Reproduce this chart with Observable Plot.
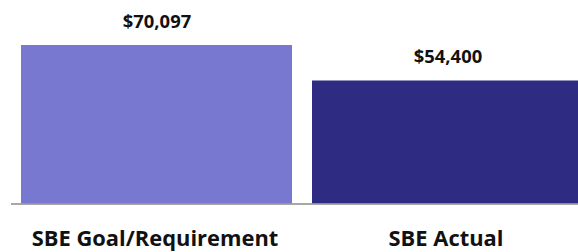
<!DOCTYPE html>
<html>
<head>
<meta charset="utf-8">
<script src="https://cdn.jsdelivr.net/npm/d3@7"></script>
<script src="https://cdn.jsdelivr.net/npm/@observablehq/plot@0.6"></script>
<style>
html, body { margin: 0; padding: 0; background: #fff; overflow: hidden; }
svg { overflow: hidden; }
</style>
</head>
<body>
<div id="chart"></div>
<script>
const categories = ["SBE Goal/Requirement", "SBE Actual"];
const values = [70097, 54400];
const valueLabels = ["$70,097", "$54,400"];
const colors = ["#7978D0", "#2E2B82"];

const data = categories.map((c, i) => ({category: c, value: values[i], label: valueLabels[i], color: colors[i]}));

const chart = Plot.plot({
  width: 578,
  height: 252,
  marginLeft: 11,
  marginRight: 0,
  marginTop: 0,
  marginBottom: 48.5,
  style: {fontFamily: "'Open Sans', 'Noto Sans', sans-serif", background: "#fff"},
  x: {domain: categories, range: [11, 593], paddingInner: 0.07, paddingOuter: 0.035, axis: null},
  y: {domain: [0, 90000], range: [203.5, 0], axis: null},
  marks: [
    Plot.barY(data, {x: "category", y: "value", fill: "color"}),
    Plot.ruleY([0], {stroke: "#8a8a8a", strokeWidth: 1.5}),
    Plot.text(data, {x: "category", y: "value", text: "label", dy: -18, lineAnchor: "bottom", fontSize: 18.4, fontWeight: "bold", fill: "#111"}),
    Plot.text(data, {x: "category", y: 0, text: "category", dx: -2, dy: 41.5, lineAnchor: "bottom", fontSize: 21.9, fontWeight: "bold", fill: "#111"})
  ]
});
document.getElementById("chart").append(chart);
</script>
</body>
</html>
